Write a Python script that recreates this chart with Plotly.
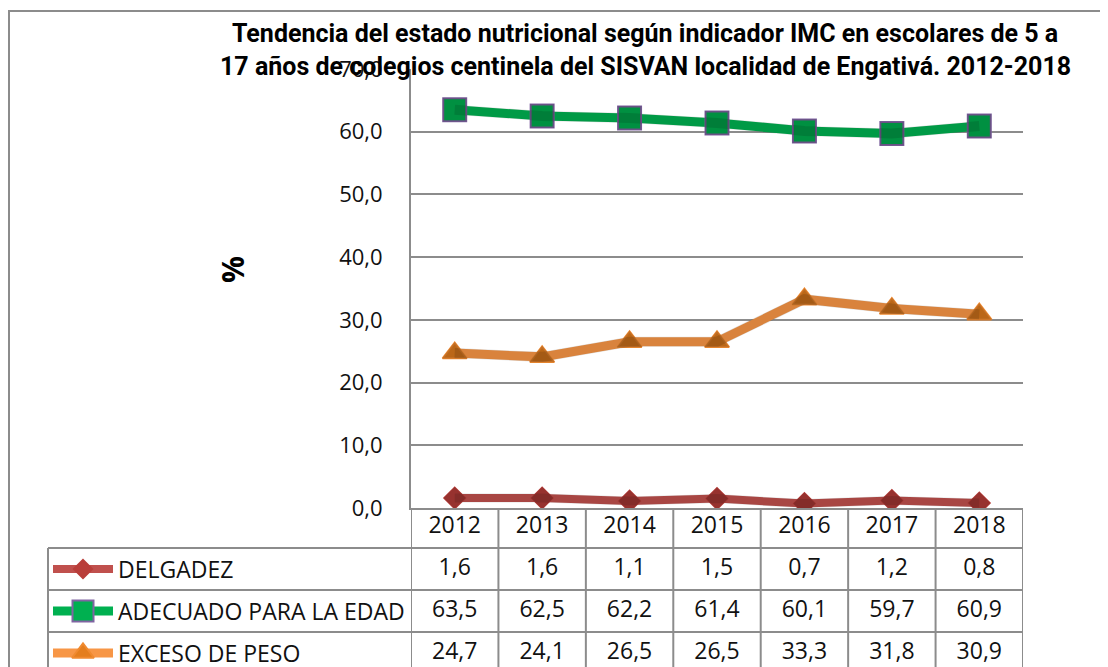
import plotly.graph_objects as go

# ---------------- data ----------------
years = ["2012", "2013", "2014", "2015", "2016", "2017", "2018"]
series_names = ["DELGADEZ", "ADECUADO PARA LA EDAD", "EXCESO DE PESO"]
delgadez = [1.6, 1.6, 1.1, 1.5, 0.7, 1.2, 0.8]
adecuado = [63.5, 62.5, 62.2, 61.4, 60.1, 59.7, 60.9]
exceso = [24.7, 24.1, 26.5, 26.5, 33.3, 31.8, 30.9]
title_lines = ["Tendencia del estado nutricional según indicador IMC en escolares de 5 a",
               "17 años de colegios centinela del SISVAN localidad de Engativá. 2012-2018"]
y_title = "%"

# ---------------- styles ----------------
OFF = 8                     # page body margin
W, H = 1108 - OFF, 667 - OFF
FONT = "Open Sans, Noto Sans, sans-serif"
TITLE_FONT = "Roboto, Liberation Sans, sans-serif"
GRID = "#8c8c8c"
TXT = 23
styles = [
    dict(line="#C0504D", fill="#B93E3A", edge="#B93E3A", symbol="diamond", size=16, width=8),
    dict(line="#00B050", fill="#00B050", edge="#8064A2", symbol="square", size=23, width=9),
    dict(line="#F79646", fill="#E47E1E", edge="#F08A30", symbol="triangle-up", size=21, width=9),
]
values = [delgadez, adecuado, exceso]

def px_x(p):
    return (p - OFF) / W

def px_y(p):
    return (H - (p - OFF)) / H

plot_left, plot_right = 411, 1023
plot_top, plot_bottom = 69, 508
ROW_H = 42.0
row1_top = 548
y2_top = 0.5 - (row1_top - plot_bottom) / ROW_H
y2_bot = 0.5 + (667 - row1_top) / ROW_H

xidx = list(range(len(years)))

fig = go.Figure()

# shadows (same data, axis shifted a few pixels)
for vals, st in zip(values, styles):
    fig.add_trace(go.Scatter(
        x=xidx, y=vals, mode="lines+markers", xaxis="x4", yaxis="y4",
        line=dict(color="rgba(0,0,0,0.12)", width=st["width"] + 1),
        marker=dict(symbol=st["symbol"], size=st["size"] + 1, color="rgba(0,0,0,0.18)",
                    line=dict(width=0)),
        hoverinfo="skip", showlegend=False))

# main series
for name, vals, st in zip(series_names, values, styles):
    fig.add_trace(go.Scatter(
        x=xidx, y=vals, mode="lines+markers", name=name,
        line=dict(color=st["line"], width=st["width"]),
        marker=dict(symbol=st["symbol"], size=st["size"], color=st["fill"],
                    line=dict(color=st["edge"], width=2)),
        showlegend=False))

# data table: header years
fig.add_trace(go.Scatter(
    x=xidx, y=[0] * len(years), mode="text", text=years, yaxis="y2",
    textfont=dict(family=FONT, size=TXT, color="#111111"),
    hoverinfo="skip", showlegend=False))

# data table: values
for r, vals in enumerate(values, start=1):
    fig.add_trace(go.Scatter(
        x=xidx, y=[r] * len(vals), mode="text",
        text=[f"{v:.1f}".replace(".", ",") for v in vals], yaxis="y2",
        textfont=dict(family=FONT, size=TXT, color="#111111"),
        hoverinfo="skip", showlegend=False))

# legend keys inside the table
for r, st in enumerate(styles, start=1):
    fig.add_trace(go.Scatter(
        x=[0, 2], y=[r, r], mode="lines", xaxis="x3", yaxis="y2",
        line=dict(color=st["line"], width=st["width"]),
        hoverinfo="skip", showlegend=False))
    fig.add_trace(go.Scatter(
        x=[1], y=[r], mode="markers", xaxis="x3", yaxis="y2",
        marker=dict(symbol=st["symbol"], size=st["size"] - 2, color=st["fill"],
                    line=dict(color=st["edge"], width=2)),
        hoverinfo="skip", showlegend=False))

shapes = []
# outer chart border
shapes.append(dict(type="line", xref="paper", yref="paper", x0=px_x(8), x1=1.0,
                   y0=px_y(11), y1=px_y(11), line=dict(color=GRID, width=2)))
shapes.append(dict(type="line", xref="paper", yref="paper", x0=px_x(9), x1=px_x(9),
                   y0=0, y1=px_y(11), line=dict(color=GRID, width=2)))
# table column lines
for i in range(len(years) + 1):
    shapes.append(dict(type="line", xref="x", yref="y2", x0=i - 0.5, x1=i - 0.5,
                       y0=y2_top, y1=y2_bot, line=dict(color=GRID, width=2)))
# table row lines
for r in range(1, len(values) + 1):
    shapes.append(dict(type="line", xref="paper", yref="y2", x0=px_x(48), x1=px_x(plot_right),
                       y0=r - 0.5, y1=r - 0.5, line=dict(color=GRID, width=2)))
# label column left border
shapes.append(dict(type="line", xref="paper", yref="y2", x0=px_x(48), x1=px_x(48),
                   y0=0.5, y1=y2_bot, line=dict(color=GRID, width=2)))

annotations = []
for r, name in enumerate(series_names, start=1):
    annotations.append(dict(text=name, xref="paper", yref="y2", x=px_x(116), y=r,
                            xanchor="left", yanchor="middle", showarrow=False,
                            font=dict(family=FONT, size=TXT, color="#111111")))
annotations.append(dict(text=y_title, xref="paper", yref="paper", x=px_x(232), y=px_y(270),
                        textangle=-90, showarrow=False, xanchor="center", yanchor="middle",
                        font=dict(family=FONT, size=30, color="#000000", weight="bold")))
for line, yc in zip(title_lines, [34, 66]):
    annotations.append(dict(text=line, xref="paper", yref="paper", x=px_x(645), y=px_y(yc),
                            xanchor="center", yanchor="middle", showarrow=False,
                            font=dict(family=TITLE_FONT, size=25, color="#000000", weight="bold")))

dom_x = [px_x(plot_left), px_x(plot_right)]
dom_y = [px_y(plot_bottom), px_y(plot_top)]
fig.update_layout(
    width=W, height=H, margin=dict(l=0, r=0, t=0, b=0, autoexpand=False),
    paper_bgcolor="white", plot_bgcolor="rgba(0,0,0,0)",
    separators=",.",
    xaxis=dict(domain=dom_x, range=[-0.5, 6.5], anchor="y", showgrid=False, zeroline=False,
               showticklabels=False, showline=True, linecolor=GRID, linewidth=2, ticks="",
               automargin=False),
    yaxis=dict(domain=dom_y, range=[0, 70], dtick=10, tickformat=".1f", anchor="x",
               showgrid=True, gridcolor=GRID, gridwidth=2, zeroline=False,
               showline=True, linecolor=GRID, linewidth=2, ticks="",
               ticklabelstandoff=22, automargin=False,
               tickfont=dict(family=FONT, size=22, color="#111111")),
    yaxis2=dict(domain=[0, px_y(plot_bottom)], range=[y2_bot, y2_top], anchor="x",
                visible=False, automargin=False),
    xaxis3=dict(domain=[px_x(53), px_x(113)], range=[0, 2], anchor="y2", visible=False,
                automargin=False),
    xaxis4=dict(domain=[px_x(plot_left + 1), px_x(plot_right + 1)], range=[-0.5, 6.5],
                anchor="y4", visible=False, overlaying="x", automargin=False),
    yaxis4=dict(domain=[px_y(plot_bottom + 4), px_y(plot_top + 4)], range=[0, 70],
                anchor="x4", visible=False, overlaying="y", automargin=False),
    shapes=shapes, annotations=annotations,
)

fig.write_html("out.html")
